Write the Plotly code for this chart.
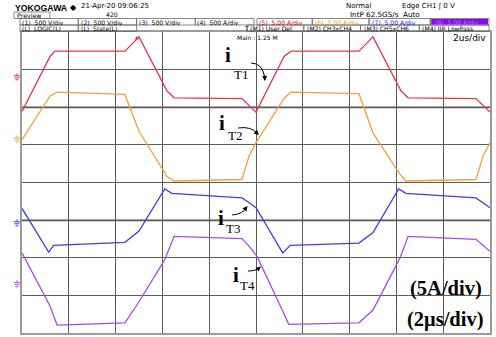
import plotly.graph_objects as go

# ---------------------------------------------------------------------------
# Oscilloscope capture: four switch currents, 5 A/div, 2 us/div
# ---------------------------------------------------------------------------
W, H = 496, 337
ML, MR, MT, MB = 22, 4, 32, 4

T_PER_DIV = 2.0      # us per division
A_PER_DIV = 5.0      # A per division
N_XDIV, N_YDIV = 10, 8

# ground level of each channel, in divisions from screen centre
ground_div = [2.81, 1.16, -1.07, -2.69]
channel_names = ["iT1", "iT2", "iT3", "iT4"]
channel_colors = ["#e8364a", "#eea23c", "#3f3fe0", "#a24fe2"]

# sampled waveform corners: time (us) and current (A)
t_T1 = [0.0, 1.2, 1.4, 4.4, 5.0, 6.2, 6.5, 9.4, 10.0, 11.2, 11.5, 14.4, 15.0, 16.2, 16.5, 19.4, 20.0]
i_T1 = [-4.6, 2.7, 3.4, 3.4, 5.3, -1.9, -2.8, -2.9, -4.7, 2.7, 3.4, 3.4, 5.3, -1.9, -2.8, -2.9, -4.7]

t_T2 = [0.0, 1.2, 1.5, 4.4, 5.0, 6.2, 6.5, 9.4, 9.7, 10.0, 11.2, 11.5, 14.4, 15.0, 16.1, 16.4, 19.4, 19.7, 20.0]
i_T2 = [-0.1, 5.7, 6.2, 5.9, 1.0, -5.0, -5.6, -5.4, -2.3, -0.5, 5.4, 6.2, 6.0, 0.8, -4.5, -5.6, -5.4, -2.3, -0.5]

t_T3 = [0.0, 1.14, 1.35, 4.4, 5.0, 6.1, 6.4, 9.4, 9.7, 10.0, 11.14, 11.47, 14.4, 15.0, 16.1, 16.4, 19.4, 20.0]
i_T3 = [1.9, -3.9, -3.0, -2.6, -1.1, 4.5, 3.9, 3.3, 2.7, 2.0, -4.0, -3.0, -2.7, -1.3, 4.5, 3.9, 3.3, 2.0]

t_T4 = [0.0, 1.2, 1.5, 4.4, 5.0, 6.1, 6.5, 9.4, 9.7, 10.05, 11.0, 11.4, 14.4, 15.0, 16.15, 16.5, 19.4, 20.0]
i_T4 = [4.1, -3.0, -5.5, -5.2, -2.4, 3.2, 6.3, 6.0, 5.0, 3.6, -2.7, -5.4, -5.2, -3.5, 3.4, 6.3, 5.9, 4.3]

times = [t_T1, t_T2, t_T3, t_T4]
currents = [i_T1, i_T2, i_T3, i_T4]

PW = W - ML - MR
PH = H - MT - MB


def px(x):
    return (x - ML) / PW


def py(y):
    return 1 - (y - MT) / PH


fig = go.Figure()

for k in range(4):
    fig.add_trace(go.Scatter(
        x=times[k], y=currents[k], mode="lines", name=channel_names[k],
        line=dict(color=channel_colors[k], width=1.3),
        yaxis="y%d" % (k + 2), showlegend=False, hoverinfo="skip"))

layout_axes = {}
for k in range(4):
    lo = (-N_YDIV / 2 - ground_div[k]) * A_PER_DIV
    hi = (N_YDIV / 2 - ground_div[k]) * A_PER_DIV
    layout_axes["yaxis%d" % (k + 2)] = dict(overlaying="y", range=[lo, hi], visible=False)

fig.update_layout(
    width=W, height=H,
    margin=dict(l=ML, r=MR, t=MT, b=MB),
    paper_bgcolor="white", plot_bgcolor="white",
    xaxis=dict(range=[0, N_XDIV * T_PER_DIV], dtick=T_PER_DIV, showgrid=True,
               gridcolor="#5c5c5c", gridwidth=1, zeroline=False, showticklabels=False,
               ticks="", showline=True, mirror=True, linecolor="#9a9a9a", linewidth=1.5),
    yaxis=dict(range=[-N_YDIV / 2, N_YDIV / 2], dtick=1, showgrid=True,
               gridcolor="#5c5c5c", gridwidth=1, zeroline=False, showticklabels=False,
               ticks="", showline=True, mirror=True, linecolor="#9a9a9a", linewidth=1.5),
    **layout_axes,
)

shapes = []
# softer, wider graticule rows
for yd in [2, -1]:
    shapes.append(dict(type="line", xref="paper", yref="y", x0=0, x1=1, y0=yd, y1=yd,
                       line=dict(color="#a6a6a6", width=2.5), layer="below"))

# ground markers on the left edge
for k in range(4):
    gy = MT + (N_YDIV / 2 - ground_div[k]) * PH / N_YDIV
    c = channel_colors[k]
    shapes.append(dict(type="line", xref="paper", yref="paper", x0=px(17), x1=px(17),
                       y0=py(gy - 3.5), y1=py(gy - 1), line=dict(color=c, width=1)))
    for dy, half in [(-1, 3.5), (1, 2.5), (3, 1.5)]:
        shapes.append(dict(type="line", xref="paper", yref="paper", x0=px(17 - half),
                           x1=px(17 + half), y0=py(gy + dy), y1=py(gy + dy),
                           line=dict(color=c, width=1)))

# header tabs
tab_rows = [
    [(20, 78.5), (78.5, 137), (137, 196), (196, 255), (258, 313.5), (313.5, 370.5), (370.5, 432), (432, 491)],
    [(20, 78.5), (78.5, 137), (248, 305), (305, 362), (362, 421), (421, 491)],
]
row_y = [(18.5, 25), (25, 31.5)]
for r, row in enumerate(tab_rows):
    for (a, b) in row:
        shapes.append(dict(type="rect", xref="paper", yref="paper", x0=px(a), x1=px(b),
                           y0=py(row_y[r][1]), y1=py(row_y[r][0]),
                           line=dict(color="#6b6b6b", width=0.8)))
shapes.append(dict(type="rect", xref="paper", yref="paper", x0=px(433), x1=px(490),
                   y0=py(24.5), y1=py(19), fillcolor="#8a08f0", line=dict(width=0)))
shapes.append(dict(type="rect", xref="paper", yref="paper", x0=px(14), x1=px(50),
                   y0=py(18.5), y1=py(12), line=dict(color="#6b6b6b", width=0.8)))

# curved pointers for the labels
curves = [
    ((252, 63), (264, 63), (266, 79)),
    ((239, 128), (252, 126), (258.5, 133.5)),
    ((233, 215), (244, 214), (247.5, 207.5)),
    ((249, 271), (257, 271), (260.5, 267.5)),
]
for (p0, pc, p1) in curves:
    path = "M %f,%f Q %f,%f %f,%f" % (px(p0[0]), py(p0[1]), px(pc[0]), py(pc[1]), px(p1[0]), py(p1[1]))
    shapes.append(dict(type="path", xref="paper", yref="paper", path=path,
                       line=dict(color="black", width=1)))
fig.update_layout(shapes=shapes)

ann = []
SANS = "DejaVu Sans, Liberation Sans, sans-serif"


def text(x, y, s, size, color="black", family=SANS, xanchor="left", weight="normal"):
    ann.append(dict(xref="paper", yref="paper", x=px(x), y=py(y), text=s, showarrow=False,
                    xanchor=xanchor, yanchor="middle", borderpad=0,
                    font=dict(size=size, color=color, family=family, weight=weight)))


# instrument header
text(14, 7.5, "YOKOGAWA", 8.7, weight="bold", family="Liberation Sans, Arial, sans-serif")
text(69, 7.5, "\u25c6", 8)
text(80, 6.3, "21-Apr-20 09:06:25", 7)
text(16, 15.3, "Preview", 6.3)
text(105, 15, "420", 6.2)
text(346, 6.5, "Normal", 7)
text(403, 6.5, "Edge CH1 \u0283 0 V", 7)
text(350, 14.5, "IntP 62.5GS/s  Auto", 7.2)

row1 = [("(1)  500 V/div", 21, "black"), ("(2)  500 V/div", 80, "black"),
        ("(3)  500 V/div", 138, "black"), ("(4)  500 A/div", 197, "black"),
        ("(5)  5.00 A/div", 259, "#e00010"), ("(6)  5.00 A/div", 315, "#f0a000"),
        ("(7)  5.00 A/div", 372, "#1010ff"), ("(8)  5.00 A/div", 436, "#b070ff")]
for s, x, c in row1:
    text(x, 22.2, s, 6.1, color=c)
row2 = [("(L)  LOGIC(L)", 21), ("(L)  State(L)", 80), ("T", 244), ("(M1) User Def", 250),
        ("(M2) CH3xCH4", 307), ("(M3) CH5xCH6", 364), ("(M4) IIR LowPass", 423)]
for s, x in row2:
    text(x, 28.4, s, 6.1)

text(237, 37.5, "Main : 1.25 M", 6)
text(489, 38.5, "2us/div", 9, xanchor="right")
# trigger position marker
text(137, 37, "\u25b2", 5, color="#e8364a", xanchor="center")

# channel labels
serif = "Liberation Serif, DejaVu Serif, serif"
labels = [((228.5, 55), (242, 74), "T1"), ((222.5, 123.5), (236, 135.5), "T2"),
          ((221.5, 218), (234, 228.5), "T3"), ((236.5, 275), (248.5, 285.5), "T4")]
for (ip, sp, sub) in labels:
    text(ip[0], ip[1], "i", 21, family=serif, xanchor="center", weight="bold")
    text(sp[0], sp[1], sub, 13, family=serif, xanchor="center")

text(447.5, 288.5, "(5A/div)", 20.5, family=serif, xanchor="center", weight="bold")
text(447.5, 319.5, "(2\u03bcs/div)", 20.5, family=serif, xanchor="center", weight="bold")

# arrow heads at the ends of the pointers
heads = [((266, 81), (-0.5, -7)), ((260, 135), (-5, -4.5)),
         ((248.5, 206), (-4, 5)), ((262, 266.5), (-5, 4))]
for (tip, d) in heads:
    ann.append(dict(xref="paper", yref="paper", x=px(tip[0]), y=py(tip[1]), ax=d[0], ay=d[1],
                    text="", showarrow=True, arrowhead=2, arrowsize=1, arrowwidth=1,
                    arrowcolor="black", standoff=0))

fig.update_layout(annotations=ann)
fig.write_html("out.html")
